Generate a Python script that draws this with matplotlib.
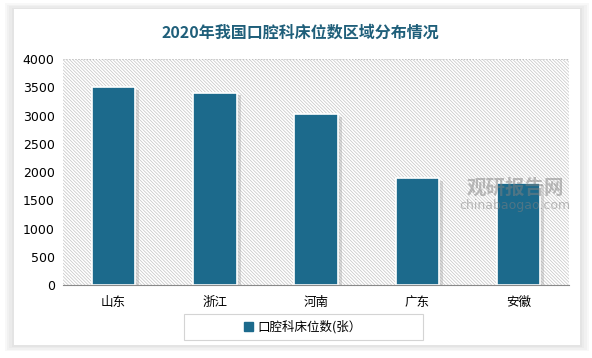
import matplotlib.pyplot as plt
from matplotlib.patches import Rectangle
import numpy as np

plt.rcParams['font.family'] = ['Noto Sans CJK SC', 'DejaVu Sans']
plt.rcParams['hatch.linewidth'] = 0.5

provinces = ["山东", "浙江", "河南", "广东", "安徽"]
beds = [3500, 3400, 3020, 1890, 1810]
yticks = [0, 500, 1000, 1500, 2000, 2500, 3000, 3500, 4000]

bar_color = "#1c6a8c"
title_color = "#1f5f7a"

fig = plt.figure(figsize=(5.92, 3.58), dpi=100)
fig.patch.set_facecolor("white")

# card with soft shadow
for i, a in enumerate([0.05, 0.05, 0.05, 0.06]):
    d = (4 - i) * 0.004
    fig.patches.append(Rectangle((0.024 - d, 0.035 - d), 0.955 + 2 * d, 0.94 + 2 * d,
                                 transform=fig.transFigure, facecolor="#808080",
                                 edgecolor="none", alpha=a, zorder=0))
fig.patches.append(Rectangle((0.024, 0.035), 0.955, 0.94, transform=fig.transFigure,
                             facecolor="white", edgecolor="none", zorder=1))

# legend frame
fig.patches.append(Rectangle((184 / 592, 18 / 358), 239 / 592, 26 / 358,
                             transform=fig.transFigure, facecolor="white",
                             edgecolor="#d4d4d4", linewidth=0.8, zorder=2))

ax = fig.add_axes([0.1064, 0.2039, 0.855, 0.631])
ax.set_zorder(3)
ax.set_facecolor("none")
x = np.arange(len(provinces))

# hatched plot background
ax.add_patch(Rectangle((0, 0), 1, 1, transform=ax.transAxes, facecolor="white",
                       edgecolor="#c4c4c4", hatch="\\" * 10, linewidth=0, zorder=0))

# shadows behind bars
ax.bar(x + 0.04, beds, width=0.43, color="#9a9a9a", alpha=0.35, zorder=1,
       bottom=-40)
ax.bar(x, beds, width=0.43, color=bar_color, edgecolor="white", linewidth=1.2, zorder=2)

ax.set_xlim(-0.5, len(provinces) - 0.5)
ax.set_ylim(0, 4000)
ax.set_yticks(yticks)
ax.set_yticklabels([str(v) for v in yticks], fontsize=9, family="DejaVu Sans")
ax.set_xticks(x)
ax.set_xticklabels(provinces, fontsize=9)
ax.tick_params(length=0, pad=6)
ax.tick_params(axis="x", pad=8)
ax.axhline(4000, color="#c0c0c0", linestyle=":", linewidth=0.8, zorder=3)
for s in ["top", "right", "left"]:
    ax.spines[s].set_visible(False)
ax.spines["bottom"].set_color("#8a8a8a")
ax.spines["bottom"].set_zorder(4)

fig.text(0.507, 0.91, "2020年我国口腔科床位数区域分布情况", ha="center", va="center",
         fontsize=11.5, fontweight="bold", color=title_color, zorder=5)

# watermark
wm = fig.text(0.87, 0.475, "观研报告网", ha="center", va="center", fontsize=14,
              fontweight="bold", color="#808080", alpha=0.5)
wm.set_zorder(10)
wm2 = fig.text(0.87, 0.425, "chinabaogao.com", ha="center", va="center", fontsize=9,
               color="#808080", alpha=0.5, family="DejaVu Sans")
wm2.set_zorder(10)

h = Rectangle((0, 0), 1, 1, color=bar_color)
leg = fig.legend([h], ["口腔科床位数(张）"], loc="center", bbox_to_anchor=(0.512, 31 / 358),
                 fontsize=9, frameon=False, handlelength=0.7,
                 handleheight=0.7, handletextpad=0.4)
leg.set_zorder(6)

fig.savefig("out.png", dpi=100)
